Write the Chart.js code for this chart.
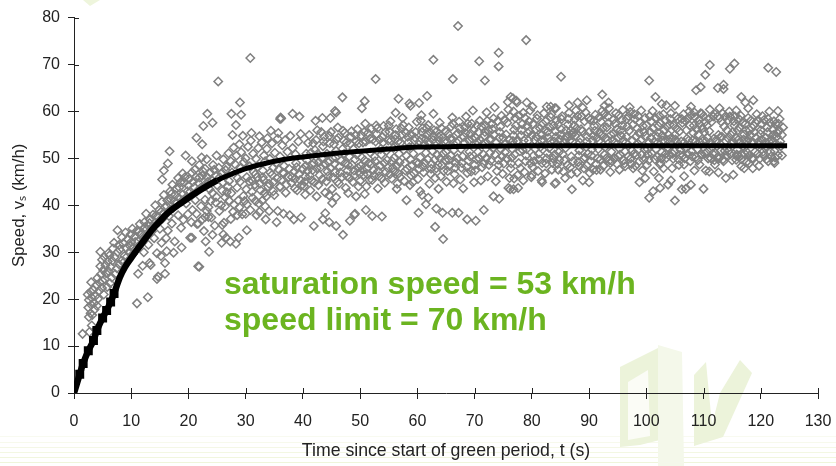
<!DOCTYPE html>
<html>
<head>
<meta charset="utf-8">
<title>Speed since start of green period</title>
<script src="https://cdn.jsdelivr.net/npm/chart.js@4"></script>
<style>
    html, body { margin: 0; padding: 0; background: #fff; }
    #wrap { position: relative; width: 836px; height: 466px; overflow: hidden; }
    #bg, #speedChart { position: absolute; left: 0; top: 0; }
    .note { position: absolute; left: 224px; font: bold 32px "Liberation Sans", Arial, sans-serif; color: #6bb420; white-space: nowrap; }
</style>
</head>
<body>
<div id="wrap">
    <svg id="bg" width="836" height="466">
        <polygon points="83,0 100,0 90,6" fill="#eef5dc"/>
        <g stroke-width="1">
            <line x1="0" y1="436.5" x2="836" y2="436.5" stroke="#f8faf0"/>
            <line x1="0" y1="442.5" x2="836" y2="442.5" stroke="#f7f9ec"/>
            <line x1="0" y1="447.5" x2="836" y2="447.5" stroke="#f4f7e6"/>
            <line x1="0" y1="452.5" x2="836" y2="452.5" stroke="#f3f7e2"/>
            <line x1="0" y1="457.5" x2="836" y2="457.5" stroke="#f1f6de"/>
            <line x1="0" y1="462.5" x2="836" y2="462.5" stroke="#eff5da"/>
        </g>
        <g fill="#ecf3da">
            <polygon points="620,367 660,347 660,440 640,445 620,447"/>
            <polygon points="658,345 682,352 684,466 658,466" fill="#f4f8ea"/>
            <polygon points="694,375 706,362 712,425 694,446"/>
            <polygon points="720,393 740,360 752,373 723,437 694,446 694,433 712,425"/>
        </g>
        <polygon points="628,382 648,370 650,436 628,440" fill="#fbfcf6"/>
    </svg>
    <canvas id="speedChart" width="836" height="466"></canvas>
    <div class="note" style="top:265px">saturation speed = 53 km/h</div>
    <div class="note" style="top:301px">speed limit = 70 km/h</div>
</div>
<script>
const xTicks = [0, 10, 20, 30, 40, 50, 60, 70, 80, 90, 100, 110, 120, 130];
const yTicks = [0, 10, 20, 30, 40, 50, 60, 70, 80];
const xTitle = 'Time since start of green period, t (s)';
const yTitle = 'Speed, v\u209B (km/h)';

// fitted curve
const fitTimes = [0, 1, 1.6, 2.5, 3.4, 4, 5, 5.7, 6.4, 7, 8, 8.9, 10, 11, 11.8, 13, 14, 15, 16, 17, 18.5, 20, 22, 25, 27, 30, 33, 36, 40, 45, 50, 55, 60, 65, 70, 80, 90, 100, 110, 120, 124.6];
const fitSpeeds = [0, 4, 6.3, 9, 11.2, 13.3, 16, 17.6, 19.4, 21.2, 24.6, 26.8, 28.8, 30.5, 31.8, 33.8, 35.3, 36.6, 37.9, 39, 40.3, 41.6, 43.2, 45.3, 46.4, 47.8, 48.8, 49.6, 50.3, 51, 51.5, 52, 52.4, 52.5, 52.6, 52.7, 52.7, 52.7, 52.7, 52.7, 52.7];

// stray points away from the main band, read one by one
const strayHigh = [[67.1,78.2],[79,75.2],[74.2,72.5],[74.2,69.6],[70.8,70.7],[62.8,71],[66.2,66.9],[71.8,66.6],[52.7,66.9],[46.9,63],[50.8,62.2],[50.3,60.7],[56.7,62.7],[58.6,61.7],[58.8,61.2],[60.3,61.8],[61.7,63.3],[56.2,59.7],[57.4,58.6],[60.7,59.2],[62.8,59.5],[76.3,63.1],[85.1,67.4],[38.2,59.5],[39.4,58.9],[42.2,58],[43.4,58.6],[44.8,58.6],[45.6,60.1],[45.8,59.8],[36.2,58.5],[100.5,66.6],[111.1,69.9],[115.4,70.2],[114.6,69.1],[110.3,67.8],[121.3,69.3],[122.7,68.4],[109.5,65.2],[108.7,64.5],[112.5,65],[113.5,65.7],[113.5,64.8],[116.6,63.1],[118.7,62.4],[117.3,61.9],[117.8,60.7],[123,60.1],[112.8,60.7],[115.7,60.2],[101.6,63.1],[102.7,61.6],[103.5,61.3],[105,61.2],[107.8,61],[109.7,59.5],[92.3,63.6],[93.4,61.9],[92.7,61.2],[89.6,62.4],[88,61.9],[86.5,61.3],[84.2,60.7],[82.6,61],[83.3,61],[84,60.7],[77.4,61.9],[79.1,61.9],[80.1,61],[76.8,60],[29,61.9],[23.3,59.5],[27.5,59.5],[29.2,59.3],[22.6,56.9],[28.3,57.1],[27.7,55],[29.5,54.8],[21.4,54.4],[22.4,53],[36.1,58.7],[36,58.4],[34.4,55.9],[35.7,55.4],[31,55.4],[32.4,54.7],[33.8,54.3],[25.2,66.4],[30.8,71.4],[24.2,57.6],[16.7,51.5],[19.5,50.6],[20.6,49.4],[22.3,50.2],[16.4,48.9],[15.7,47.4],[15.4,45.5]];
const strayLow = [[87,43.4],[88.9,45.3],[90,44.9],[85.8,45.8],[86.9,46.7],[84.2,44.8],[90.7,47.6],[92,47.6],[88.3,48.3],[89.6,48.5],[95.3,47.6],[96.3,48.3],[97.7,47.9],[93.7,49],[98.8,44.9],[99.8,45.8],[100.5,41.6],[101.2,43],[102.4,43.7],[103.8,44.4],[104.3,45.3],[102.2,45.8],[102.4,48.7],[103,47.9],[105,41],[106.2,43.4],[106.9,43.5],[107.8,44.4],[106.6,46.2],[106.6,48.7],[110,43.5],[108.4,47.4],[109.3,48.7],[110.4,47.4],[111,47.2],[112,48.7],[112.6,47],[113.9,45.8],[115.2,46.5],[116.6,48.3],[117.1,47.9],[118,49],[118.6,47.9],[119.7,48.4],[121.3,49.4],[122.3,49.4],[122.4,49],[123.7,50.6],[116,50.6],[116.3,50.3],[64.5,32.8],[63.1,35.4],[60.2,38.4],[63.3,39.3],[64.4,38.4],[66.1,38.4],[67.2,38.4],[68.7,37],[70.2,36.7],[71.6,39],[58.1,41.1],[61.9,41.6],[61.5,40.2],[51,39],[49.1,38.2],[52.1,37.7],[53.8,37.6],[48.2,36.7],[73.3,41.9],[74.3,41.4],[63.7,43.5],[60.5,43],[60.8,42.2],[56.4,43.5],[49.3,41.9],[50.8,42.4],[75.9,43.7],[76.8,43.4],[81.7,45.3],[81.8,44.9],[84,44.6],[77.6,43.7],[76.2,43.4],[78.5,45.3],[76.9,45.7],[80,46.5],[84.6,47.6],[21.9,26.9],[23.6,30.1],[23,32.3],[20.3,33.1],[24.2,33.7],[25.8,32],[26.6,33.1],[26.1,33.8],[27.3,32.3],[28.3,31.8],[28.8,33.1],[30.2,34.7],[21.5,36],[22.7,34.5],[24.6,35.7],[25.9,35.8],[22.9,37.5],[23.5,37.5],[28.5,37.9],[33.5,37],[35.4,36.4],[32.4,38.6],[33.4,39.8],[34.1,38.8],[35.6,38.8],[36.6,38.2],[37.7,37.9],[38.4,37],[39.7,37.4],[41.9,35.6],[43.5,37],[44.6,36.4],[45.8,35.6],[47,33.7],[49,38],[43.9,38.3],[30.2,40.2],[31.7,40.9],[26.4,39.8],[23.9,40.9],[38.6,43.6],[40.4,42.3],[42.4,41.9],[44.6,42.1],[45.8,41.7],[45.1,40.5],[34.8,43],[36,43.9],[27.1,41],[47.9,42.6],[11,19.1],[12.9,20.4],[11.2,25.4],[12,27.1],[13.2,27.7],[14.5,24.3],[14.7,24.8],[15.9,25.4],[15.9,27.7],[14.5,29.8],[15.3,32],[17.4,29.9],[18.8,31],[17.6,32.3],[20.6,33.1],[21.7,27],[21.7,36.1],[13.4,27.3],[16.2,30.2],[15.2,29.2]];

// main cloud, by period
const cloudRise = [[1.5,12.6],[2.7,13],[3.1,14.4],[2.6,16.2],[2.9,17],[3.2,16.6],[3.6,17.8],[2.5,18.2],[3,18.8],[3.5,19.2],[4,18.6],[2.6,19.8],[3.1,20.3],[3.7,20.6],[4.2,20.1],[2.4,21],[2.9,21.6],[3.4,22],[4.4,21.8],[4.9,22.4],[3,23.6],[3.9,23],[4.5,23.5],[5,23.9],[4.1,24.5],[5.4,24.3],[4.7,25.3],[5.6,25.5],[5.1,26.2],[6,26],[4.6,27],[5.5,27.2],[6.4,26.9],[5.9,28],[4.9,28.4],[6.7,28.2],[5.3,29],[6.2,29.3],[7.1,29],[4.6,30.1],[6,29.8],[7.6,30],[6.8,30.8],[8,30.6],[7,32],[7.9,31.6],[8.6,31.9],[9.1,30.9],[7.6,34.7],[8.4,33.2],[9.4,32.8],[10,32.2],[9,34.2],[9.9,33.8],[10.6,33.3],[10.2,35],[11,34.6],[11.6,33.8],[8.8,29.2],[9.6,30],[10.4,31],[11.2,32.4],[12.1,33],[12.6,34.8],[11.5,36],[12.3,36.4],[13,35.6],[13.6,34.4],[13.3,37],[14.1,36.2],[12.6,38.2],[13.8,38],[14.6,37.6],[15,35],[14.9,39],[15.6,38.3],[14.2,40],[15.4,40.8],[16.2,39.8],[16.6,37.7],[16.9,41.3],[17.3,39.4],[15.7,42.2],[16.8,43],[17.7,42.2],[18,40.5],[17.2,44.4],[18.4,43.8],[19,42.3],[18.2,45.8],[19.3,44.9],[19.8,43],[20.1,45.6],[19,46.8],[20.6,47],[21.3,46],[21,43.9],[18.2,37.9],[19.1,36.9],[19.9,38.1],[18.7,35.2],[16.4,34.6],[17.1,36.1],[14,33],[13,31.6],[12.2,30],[16.1,33],[20.7,39],[19.6,40.4],[21.2,41.1]];
const cloudBend = [[21.8,44.7],[22.4,46.3],[22.9,47.8],[21.9,48.6],[23.4,45],[23.8,47],[24.3,48.6],[23.2,49.8],[24.8,46.2],[25.3,48],[25.8,46.9],[24.9,50.6],[26.1,49.8],[26.6,48.2],[27,51.1],[27.4,49.4],[27.9,52.3],[28.4,50.6],[28.9,53],[29.2,51.3],[30,50],[30.4,52.5],[30.9,53.8],[31.3,51],[31.8,49.9],[32.2,52.2],[32.8,53.4],[33.2,50.6],[33.7,52],[34.2,49.9],[34.6,53.2],[35.1,51.2],[35.6,54.2],[36,50.4],[36.4,52.8],[36.9,53.9],[37.3,51.4],[37.8,54.8],[38.2,52.2],[38.7,50.9],[39.2,53.6],[39.6,55.2],[22.2,39.8],[22.9,41.2],[23.5,39.6],[24.2,42.6],[24.8,40.6],[25.4,38.8],[25.9,43.1],[26.4,41.7],[26.9,44],[27.5,42.6],[28,40.1],[28.5,43.8],[29,45],[29.6,42],[30.1,43.4],[30.6,45.1],[31.1,42.9],[31.6,44.4],[32,46],[32.6,43.2],[33.1,45.4],[33.6,41.9],[34.1,44.6],[34.6,46.5],[35,42.2],[35.5,45.7],[36,44],[36.5,47],[37,42.7],[37.5,46],[38,44.8],[38.5,47.2],[39,43.2],[39.5,45.4],[40,47.8],[26.2,36.3],[27.4,37.1],[29.4,38.1],[30.8,39],[31.9,37.9],[32.9,41],[28.7,41],[29.8,40.9],[31.4,47.1],[33,47.4],[34.8,48],[36.7,48.4],[38.8,49]];
const cloudForties = [[40.2,44.1],[40.4,46.2],[40.5,48.4],[40.7,49.6],[40.9,53.3],[41.1,55],[41.3,43.2],[41.5,45.3],[41.7,47.5],[41.9,49],[42.1,51.8],[42.3,53.9],[42.5,56],[42.7,44.3],[42.9,46.4],[43.1,48.1],[43.3,50],[43.5,52.6],[43.7,54.6],[43.9,42.7],[44.1,45.1],[44.3,47.2],[44.5,49.2],[44.7,53.2],[44.9,55.6],[45.1,43.5],[45.3,46],[45.5,48.8],[45.7,50.2],[45.9,54],[46.1,56.6],[46.3,44.6],[46.5,47],[46.7,49.5],[46.9,52],[47.1,53.8],[47.3,55.4],[47.5,43.7],[47.7,46.2],[47.9,48.6],[48.1,50.4],[48.3,53.1],[48.5,55.8],[48.7,45],[48.9,47.4],[49.1,49.8],[49.3,53.6],[49.5,56.2],[49.7,44],[49.9,46.7],[40.6,51],[41.4,51.2],[43.2,55.6],[44.2,51],[45.8,51.6],[47.2,51],[48.8,52],[49.4,50.8]];
const cloudFifties = [[50.1,48.4],[50.3,50.2],[50.5,53.4],[50.7,55.6],[50.9,57.4],[51.1,44],[51.3,46.6],[51.5,49],[51.7,54.2],[51.9,56.3],[52.1,45.4],[52.3,47.5],[52.5,50.4],[52.7,53.6],[52.9,55.2],[53.1,43.6],[53.3,46.2],[53.5,48.4],[53.7,50.8],[53.9,54.6],[54.1,56.9],[54.3,44.8],[54.5,47.1],[54.7,49.6],[54.9,53.8],[55.1,55.7],[55.3,57.9],[55.5,45.7],[55.7,48],[55.9,50.1],[56.1,54.1],[56.3,56.2],[56.5,44.6],[56.7,46.8],[56.9,49.2],[57.1,53.4],[57.3,55.1],[57.5,57.1],[57.7,45.2],[57.9,47.4],[58.1,50.6],[58.3,54.6],[58.5,56.6],[58.7,44.3],[58.9,46.4],[59.1,48.6],[59.3,51],[59.5,53.8],[59.7,55.6],[59.9,57.8],[50.6,46.5],[51.8,51.2],[52.8,57],[53.6,52],[54.6,51.6],[55.8,52.2],[56.8,51],[57.6,51.8],[58.6,52.4],[59.2,44.9]];
const cloudSixties = [[60.1,45.6],[60.3,47.8],[60.5,50.2],[60.7,54.2],[60.9,56.4],[61.1,47],[61.3,49],[61.5,51.2],[61.7,55.1],[61.9,57.1],[62.1,44.6],[62.3,46.7],[62.5,48.8],[62.7,53.9],[62.9,56],[63.1,45.8],[63.3,47.9],[63.5,50.7],[63.7,54.6],[63.9,57.6],[64.1,46.2],[64.3,48.6],[64.5,51],[64.7,53.6],[64.9,55.8],[65.1,45],[65.3,47.3],[65.5,49.7],[65.7,54.2],[65.9,56.8],[66.1,58.7],[66.3,44.7],[66.5,46.6],[66.7,49.1],[66.9,53.4],[67.1,55.4],[67.3,57.8],[67.5,45.5],[67.7,48],[67.9,50.4],[68.1,54.6],[68.3,56.6],[68.5,58.9],[68.7,46.9],[68.9,49.5],[69.1,51.4],[69.3,55.3],[69.5,57.4],[69.7,60.2],[69.9,44.9],[60.6,58],[61.2,53],[62.6,51.6],[63.2,53.4],[65,51.4],[66.4,51.8],[67.6,52],[69,53.8],[69.4,47.2],[68,43.6]];
const cloudSeventies = [[70.1,47.4],[70.3,49.8],[70.5,53.5],[70.7,55.6],[70.9,58],[71.1,45.3],[71.3,48.1],[71.5,50.9],[71.7,54.8],[71.9,57],[72.1,59.8],[72.3,46.2],[72.5,48.6],[72.7,51.2],[72.9,54.1],[73.1,56.2],[73.3,58.5],[73.5,60.9],[73.7,45.1],[73.9,47.3],[74.1,49.7],[74.3,54.4],[74.5,56.8],[74.7,59.1],[74.9,46.7],[75.1,48.9],[75.3,51.3],[75.5,55.1],[75.7,57.6],[75.9,60.4],[76.1,45.8],[76.3,47.9],[76.5,50.2],[76.7,53.7],[76.9,56.1],[77.1,58.6],[77.3,62.3],[77.5,46.4],[77.7,49],[77.9,51.5],[78.1,54.9],[78.3,57.3],[78.5,59.7],[78.7,47.1],[78.9,49.4],[79.1,52],[79.3,55.4],[79.5,57.9],[79.7,60.2],[79.9,46],[70.6,51.4],[71.4,53],[72.4,56],[73.2,52.2],[74.6,52],[75.4,53.2],[76.6,52],[77.6,53.8],[78.4,51.8],[79.4,53.8],[75.8,62],[76.7,62.8]];
const cloudEighties = [[80.1,48.2],[80.3,50.6],[80.5,53.9],[80.7,56.2],[80.9,58.5],[81.1,47.3],[81.3,49.7],[81.5,52.4],[81.7,55],[81.9,57.4],[82.1,59.6],[82.3,46.8],[82.5,48.9],[82.7,51.1],[82.9,54.4],[83.1,56.7],[83.3,58.8],[83.5,47.6],[83.7,50],[83.9,53.6],[84.1,55.8],[84.3,58],[84.5,48.8],[84.7,51.3],[84.9,54.1],[85.1,56.2],[85.3,59],[85.5,47.2],[85.7,49.6],[85.9,52.2],[86.1,54.7],[86.3,57.2],[86.5,59.7],[86.7,48.1],[86.9,50.4],[87.1,53.6],[87.3,55.6],[87.5,58.3],[87.7,60.2],[87.9,47],[88.1,49.2],[88.3,51.7],[88.5,54.2],[88.7,59],[88.9,60.8],[89.1,47.9],[89.3,50.2],[89.5,52.4],[89.7,54.6],[89.9,58.6],[80.6,52],[81.6,53.8],[83,52.2],[84.4,53],[85.6,53.4],[86.8,55.9],[87.8,56.4],[88.6,56.2],[89.4,59.8],[82.2,56]];
const cloudNineties = [[90.1,46.9],[90.3,49.4],[90.5,51.9],[90.7,54.8],[90.9,56.9],[91.1,59.3],[91.3,47.5],[91.5,50],[91.7,53.7],[91.9,55.6],[92.1,57.8],[92.3,60.1],[92.5,48.4],[92.7,50.8],[92.9,54.4],[93.1,56.6],[93.3,58.9],[93.5,60.7],[93.7,47.1],[93.9,51.4],[94.1,53.9],[94.3,55.3],[94.5,57.4],[94.7,59.6],[94.9,48.8],[95.1,50.4],[95.3,52.1],[95.5,56],[95.7,58.2],[95.9,60.3],[96.1,49.6],[96.3,51.5],[96.5,54.6],[96.7,56.8],[96.9,59],[97.1,60.9],[97.3,50],[97.5,51.7],[97.7,57.2],[97.9,59.4],[98.1,48.4],[98.3,50.7],[98.5,53.2],[98.7,55.4],[98.9,57.6],[99.1,60.2],[99.3,47.4],[99.5,49.7],[99.7,51.9],[99.9,54.8],[90.8,58],[91.6,52],[92.8,52.4],[94,49.4],[95,54.4],[96,53.8],[97.6,53.8],[98.6,59],[99.4,56.9],[99.8,58.6]];
const cloudHundreds = [[100.1,48.6],[100.3,50.9],[100.5,53.4],[100.7,55.6],[100.9,57.9],[101.1,60.1],[101.3,47.2],[101.5,49.8],[101.7,52],[101.9,54.6],[102.1,56.9],[102.3,59.1],[102.5,49],[102.7,51.3],[102.9,53.8],[103.1,56],[103.3,58.1],[103.5,50.1],[103.7,52.3],[103.9,55],[104.1,57.2],[104.3,59.6],[104.5,47.9],[104.7,49.9],[104.9,51.6],[105.1,54],[105.3,56.3],[105.5,58.4],[105.7,48.6],[105.9,50.7],[106.1,53.6],[106.3,57.6],[106.5,59.4],[106.7,50],[106.9,52.1],[107.1,54.2],[107.3,58.6],[107.5,60],[107.7,49.4],[107.9,51.5],[108.1,53.9],[108.3,57],[108.5,58.8],[108.7,50.3],[108.9,52],[109.1,55.1],[109.3,57.3],[109.5,59.6],[109.7,50.8],[109.9,53.7],[110.1,55.6],[110.3,57.8],[110.5,51.2],[110.7,54.4],[110.9,58.4],[111.1,60.4],[111.3,50],[111.5,52.4],[111.7,58.9],[111.9,49.6]];
const cloudTens = [[112.1,51.1],[112.3,53.6],[112.5,59],[112.7,50],[112.9,54.5],[113.1,57.8],[113.3,59.6],[113.5,49.4],[113.7,51.6],[113.9,53.7],[114.1,56],[114.3,58.1],[114.5,60],[114.7,50.9],[114.9,53.1],[115.1,55.6],[115.3,57.9],[115.5,58.9],[115.7,49.7],[115.9,51.9],[116.1,54],[116.3,56.6],[116.5,59.1],[116.7,50.8],[116.9,52.6],[117.1,55.1],[117.3,57.3],[117.5,49.2],[117.7,51.2],[117.9,54.1],[118.1,56],[118.3,58.1],[118.5,50],[118.7,53.4],[118.9,55.6],[119.1,57.6],[119.3,59.4],[119.5,51],[119.7,53],[119.9,55.2],[120.1,57.3],[120.3,59],[120.5,50.6],[120.7,52.3],[120.9,54.4],[121.1,56.6],[121.3,58.4],[121.5,60],[121.7,51.4],[121.9,54],[122.1,56],[122.3,57.9],[122.5,50.2],[122.7,53.1],[122.9,55.4],[123.1,57.4],[123.3,58.4],[123.5,52.6],[123.7,55],[123.9,56.6]];

// second pass over the dense core of the band
const coreRise = [[5.2,21],[5.8,22.6],[6.3,23.4],[6.6,24.6],[7.2,25.3],[7.5,26.6],[7.9,27.4],[8.3,28.2],[8.7,27.9],[9.2,29],[9.8,31.3],[10.3,29.6],[10.7,32.2],[11.1,31],[11.4,34.4],[11.9,32],[12.4,35.3],[12.8,33.5],[13.2,36.2],[13.7,35.4],[14.3,37.8],[14.8,36.4],[15.2,38.6],[15.5,37.2],[15.9,39.6],[16.3,41],[16.7,39],[17,42.4],[17.5,40.8],[17.9,43.6],[18.3,41.6],[18.6,44.9],[18.9,41],[19.4,46],[19.7,41.8],[20,44.2],[20.3,42.9],[20.8,45],[21.1,47.6],[21.5,43],[21.9,45.9],[22.2,43.8],[22.6,47.2],[23,44.1],[23.3,46],[23.7,43.4],[24.1,45.4],[24.5,47.6],[25,44.3],[25.5,46],[26,44.9],[26.5,47.5],[27.1,45.2],[27.6,47],[28.1,48.8],[28.6,45.8],[29.1,47.9],[29.7,49.2],[30.2,46],[30.7,48.3],[20.5,36.4],[21.4,38.2],[22.4,37],[23.2,38.8],[24,37.4],[24.9,41.8],[25.7,40],[26.7,42.8],[27.8,38.6],[28.9,39.6],[30,38.2],[31.2,41.6],[32.3,40.4],[33.3,42.6]];
const coreBend = [[31.2,45.2],[31.7,46.6],[32.1,48.2],[32.5,44.6],[33,46],[33.4,49.4],[33.9,44],[34.3,47],[34.9,45],[35.3,49],[35.8,47.6],[36.2,45.4],[36.6,46.8],[37.1,44.4],[37.6,47.8],[38.1,46],[38.6,45.6],[38.9,48.1],[39.3,46.6],[39.8,44.3],[40.3,45],[40.8,47.3],[41.2,46.3],[41.6,48.6],[42,44.9],[42.4,47.9],[42.8,49.2],[43.4,45.6],[43.8,48.8],[44.4,46.2],[44.8,48],[45.2,50],[45.6,47],[46,45],[46.4,48.2],[46.8,46],[47.4,49],[47.8,47.4],[48.2,45.8],[48.6,48.6],[49,46.4],[49.6,48],[50,45.2],[50.4,47.6],[50.8,49.6],[51.2,47.8],[51.6,45.4],[52,48.8],[52.4,46.3],[52.6,49.4],[53.2,47.3],[53.8,45.7],[54.2,49],[54.8,48],[55.2,46.6],[55.6,49.4],[56,47.2],[56.4,48.4],[57,46],[57.8,49],[58.2,47.8],[58.8,49.8],[59.4,46.8],[59.8,49.1],[41.8,53.2],[42.6,51],[43.6,53.6],[44.6,54.8],[45.4,53],[46.2,54.4],[47,55.9],[47.6,53.4],[48.4,54.6],[49.2,55],[49.8,53.2],[50.2,54.9],[51,53.6],[51.4,55.4],[52.2,54],[53,56.4],[53.4,54],[54,53.4],[54.4,55.6],[55,57],[55.4,53.8],[56.2,55],[56.6,53.6],[57.2,56.4],[58,55.4],[58.4,53.4],[59,55],[59.6,54.4]];
const coreSixties = [[60.2,48.9],[60.4,53.6],[60.8,55.6],[61,48.2],[61.4,54],[61.6,56.4],[61.8,49.8],[62,53.4],[62.2,55.6],[62.4,47.8],[62.8,54.8],[63,49.7],[63.4,55.8],[63.6,48.6],[63.8,53.8],[64,50],[64.2,56.4],[64.4,54.4],[64.6,47.3],[64.8,49.6],[65.2,53.6],[65.4,55.2],[65.6,48.4],[65.8,50.6],[66,53.9],[66.2,57.4],[66.6,48],[66.8,55],[67,50],[67.2,53.8],[67.4,56.4],[67.8,49],[68.2,53.4],[68.4,55.4],[68.6,48.2],[68.8,57.4],[69.2,50.4],[69.6,54.2],[69.8,56],[70,48.6],[70.2,54.4],[70.4,57],[70.8,50],[71,53.9],[71.2,56.8],[71.6,48.9],[71.8,55.6],[72,50],[72.2,58],[72.6,54],[72.8,49.5],[73,57.4],[73.4,55],[73.6,50.8],[73.8,53.4],[74,57.9],[74.2,48.6],[74.4,55.6],[74.8,50.4],[75,54.4],[75.2,58.2],[75.6,50],[76,53.9],[76.2,58.9],[76.4,48.9],[76.8,54.9],[77,50.8],[77.2,57],[77.4,53.6],[77.8,59.1],[78,47.9],[78.2,56],[78.6,53.8],[78.8,58.6],[79,50.6],[79.2,57],[79.6,55.8],[79.8,49]];
const coreEighties = [[80,54.9],[80.2,57.3],[80.4,49.4],[80.8,54.6],[81,59.2],[81.2,51],[81.4,56.4],[81.8,49],[82,54],[82.4,57.9],[82.6,50],[82.8,55.7],[83.2,53.6],[83.4,59.4],[83.6,49],[83.8,57],[84,50.8],[84.2,54.6],[84.6,57.2],[84.8,49.6],[85,55],[85.2,58.4],[85.4,50.9],[85.8,54],[86,56],[86.2,48.6],[86.4,58.4],[86.6,53.8],[87,55],[87.2,49.4],[87.4,57],[87.6,54.8],[88,59],[88.2,50.6],[88.4,53.4],[88.8,55.8],[89,49.9],[89.2,57.9],[89.6,53.6],[89.8,51],[90,55.6],[90.2,58.2],[90.4,50.6],[90.6,53.8],[91,55.9],[91.2,48.8],[91.4,54.4],[91.8,58.8],[92,49.8],[92.2,54.9],[92.4,56.4],[92.6,59.4],[93,50],[93.2,53.8],[93.4,57.6],[93.6,49.6],[93.8,55],[94.2,58.2],[94.4,50],[94.6,53.4],[94.8,56.2],[95.2,59.2],[95.4,50.8],[95.6,54.8],[95.8,57],[96.2,48.9],[96.4,53.4],[96.6,58.4],[96.8,50.4],[97,55.9],[97.2,59.9],[97.4,48.8],[97.8,50.9],[98,58.4],[98.2,54.6],[98.4,56.4],[98.8,49.4],[99,53.8],[99.2,50.8],[99.6,55.6]];
const coreHundreds = [[100,57],[100.2,52],[100.4,49.6],[100.6,59],[100.8,54.4],[101,51],[101.2,56.4],[101.4,53.6],[101.6,58.6],[101.8,50.4],[102,53.4],[102.2,55.4],[102.4,57.6],[102.6,50],[102.8,54.9],[103,59.4],[103.2,53.6],[103.4,51],[103.6,56.8],[103.8,53.9],[104,50.6],[104.2,58.4],[104.4,54.4],[104.6,51],[104.8,57],[105,55],[105.2,59],[105.4,53.4],[105.6,49.8],[105.8,55.8],[106,51.8],[106.2,58.4],[106.4,50.6],[106.6,53.4],[106.8,58],[107,56],[107.2,51],[107.4,53.8],[107.6,57],[107.8,59.2],[108,50.4],[108.2,55.4],[108.4,59.8],[108.6,53.6],[108.8,56.2],[109,49.6],[109.2,58.2],[109.4,53.4],[109.6,51],[109.8,56.4],[110,59],[110.2,51],[110.4,53.6],[110.6,57],[110.8,50],[111,55.8],[111.2,53.4],[111.4,57.8],[111.6,51],[111.8,54.2],[112,59.4],[112.2,53.9],[112.4,50.2],[112.6,55],[112.8,58.6],[113,51.6],[113.2,54.6],[113.4,49.8],[113.6,56.8],[113.8,58.9],[114,50.6],[114.2,54.4],[114.4,51.6],[114.6,58.9],[114.8,55],[115,49.6],[115.2,53.6],[115.4,57],[115.6,54.4],[115.8,50.8],[116,56],[116.2,58.4],[116.4,53.4],[116.6,49.8],[116.8,57.6],[117,54],[117.2,51],[117.4,56],[117.6,53.6],[117.8,58.6],[118,50.6],[118.2,55],[118.4,53.4],[118.6,49.8],[118.8,57],[119,51.4],[119.2,54.4],[119.4,58],[119.6,53.6],[119.8,49.9],[120,56],[120.2,54],[120.4,51.4],[120.6,58.2],[120.8,53.4],[121,49.8],[121.2,55.6],[121.4,53.6],[121.6,57.6],[121.8,50.4],[122,53.4],[122.2,55],[122.4,51.6],[122.6,57.4],[122.8,54.6],[123,50.6],[123.2,56],[123.4,53.6]];

const observed = [strayHigh, strayLow, cloudRise, cloudBend, cloudForties, cloudFifties, cloudSixties, cloudSeventies, cloudEighties, cloudNineties, cloudHundreds, cloudTens, coreRise, coreBend, coreSixties, coreEighties, coreHundreds].flat();

// ticks cross the axes in the original, chart.js only draws the outer half
const innerTicks = {
    id: 'innerTicks',
    beforeDatasetsDraw(chart) {
        const { ctx, scales: { x, y }, chartArea } = chart;
        ctx.save();
        ctx.strokeStyle = '#222';
        ctx.lineWidth = 1;
        ctx.beginPath();
        x.ticks.forEach(function (t) {
            const px = Math.round(x.getPixelForValue(t.value)) + 0.5;
            ctx.moveTo(px, chartArea.bottom);
            ctx.lineTo(px, chartArea.bottom - 5);
        });
        y.ticks.forEach(function (t) {
            const py = Math.round(y.getPixelForValue(t.value)) + 0.5;
            ctx.moveTo(chartArea.left, py);
            ctx.lineTo(chartArea.left + 5, py);
        });
        ctx.stroke();
        ctx.restore();
    }
};

const tickFont = { family: '"Liberation Sans", Arial, sans-serif', size: 16 };

new Chart(document.getElementById('speedChart').getContext('2d'), {
    type: 'scatter',
    data: {
        datasets: [{
            label: 'Fit',
            data: fitTimes.map(function (t, i) { return { x: t, y: fitSpeeds[i] }; }),
            showLine: true,
            order: 0,
            borderColor: '#000',
            backgroundColor: '#000',
            borderWidth: 5,
            borderJoinStyle: 'round',
            cubicInterpolationMode: 'monotone',
            // the steep part looks heavier in the original
            segment: {
                borderWidth: function (ctx) { return ctx.p0.parsed.x < 25 ? 6.5 : 5; }
            },
            pointStyle: 'rect',
            // the early measured points stick out of the line as small squares
            pointRadius: function (ctx) { return ctx.parsed.x > 0 && ctx.parsed.x < 8 ? 2.8 : 0; }
        }, {
            label: 'Observed',
            data: observed.map(function (p) { return { x: p[0], y: p[1] }; }),
            order: 1,
            pointStyle: 'rectRot',
            pointRadius: 4.2,
            pointBorderWidth: 1.5,
            borderColor: '#808080',
            backgroundColor: 'rgba(0,0,0,0)'
        }]
    },
    plugins: [innerTicks],
    options: {
        responsive: false,
        animation: false,
        layout: { padding: { left: 3, right: 18, top: 15, bottom: 4 } },
        plugins: { legend: { display: false }, tooltip: { enabled: false } },
        scales: {
            x: {
                type: 'linear',
                min: 0,
                max: 130,
                afterBuildTicks: function (axis) { axis.ticks = xTicks.map(function (v) { return { value: v }; }); },
                // drop the margin chart.js keeps for the last label, it fits in the layout padding
                afterFit: function (axis) { axis.height = 69; axis.paddingRight = 0; },
                border: { color: '#222', width: 1 },
                grid: { drawOnChartArea: false, tickLength: 6, tickColor: '#222' },
                ticks: { font: tickFont, color: '#222', padding: 13, maxRotation: 0, autoSkip: false },
                title: { display: true, text: xTitle, color: '#222', font: { family: tickFont.family, size: 17.7 }, padding: { top: 6, bottom: 0 } }
            },
            y: {
                min: 0,
                max: 80,
                afterBuildTicks: function (axis) { axis.ticks = yTicks.map(function (v) { return { value: v }; }); },
                afterFit: function (axis) { axis.width = 71; },
                border: { color: '#222', width: 1 },
                grid: { drawOnChartArea: false, tickLength: 6, tickColor: '#222' },
                ticks: { font: tickFont, color: '#222', padding: 8, autoSkip: false },
                title: { display: true, text: yTitle, color: '#222', font: { family: tickFont.family, size: 16.8 }, padding: { top: 6, bottom: 0 } }
            }
        }
    }
});
</script>
</body>
</html>
